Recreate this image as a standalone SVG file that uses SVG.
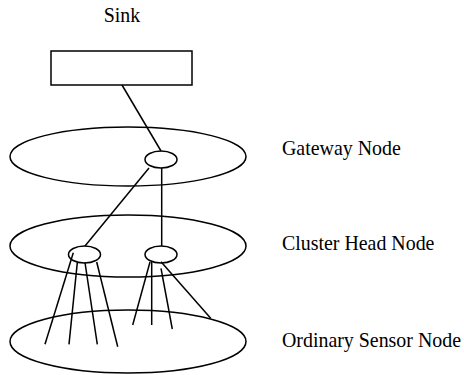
<svg xmlns="http://www.w3.org/2000/svg" width="464" height="375" viewBox="0 0 464 375">
<style>
.s{fill:none;stroke:#000;stroke-width:1.5}
.t{font-family:"Liberation Serif","Times New Roman",serif;font-size:19.9px;fill:#000}
</style>
<rect width="464" height="375" fill="#fff"/>
<g id="layers">
<ellipse id="layer-gateway" class="s" cx="128" cy="156.5" rx="118" ry="29.5"/>
<ellipse id="layer-cluster" class="s" cx="128" cy="246" rx="118" ry="31"/>
<ellipse id="layer-ordinary" class="s" cx="128" cy="341.5" rx="118" ry="31.5"/>
</g>
<g id="connectors" class="s">
<line x1="122" y1="85" x2="161" y2="151"/>
<line x1="149" y1="168" x2="85" y2="246"/>
<line x1="161.7" y1="168" x2="161.7" y2="246"/>
<line x1="73.3" y1="252.7" x2="45" y2="344.3"/>
<line x1="77.3" y1="262.7" x2="69" y2="344.3"/>
<line x1="85" y1="262.7" x2="97.3" y2="344.3"/>
<line x1="96.7" y1="262" x2="117.7" y2="346.7"/>
<line x1="150" y1="262" x2="132.7" y2="325"/>
<line x1="151.7" y1="262" x2="151.7" y2="325"/>
<line x1="161" y1="268.3" x2="172.3" y2="329"/>
<line x1="161" y1="261.7" x2="210.7" y2="318.3"/>
</g>
<g id="sink">
<rect class="s" x="51" y="51" width="141" height="34"/>
<text class="t" x="122" y="21.5" text-anchor="middle">Sink</text>
</g>
<g id="gateway">
<ellipse class="s" cx="161" cy="159.5" rx="16" ry="8.5"/>
<text class="t" x="282" y="155">Gateway Node</text>
</g>
<g id="cluster-head-left">
<ellipse class="s" cx="84.5" cy="254.5" rx="16" ry="8.5"/>
</g>
<g id="cluster-head-right">
<ellipse class="s" cx="161" cy="254.5" rx="16" ry="8.5"/>
</g>
<g id="cluster-label">
<text class="t" x="282" y="250">Cluster Head Node</text>
</g>
<g id="ordinary-label">
<text class="t" x="282" y="346.7">Ordinary Sensor Node</text>
</g>
</svg>
